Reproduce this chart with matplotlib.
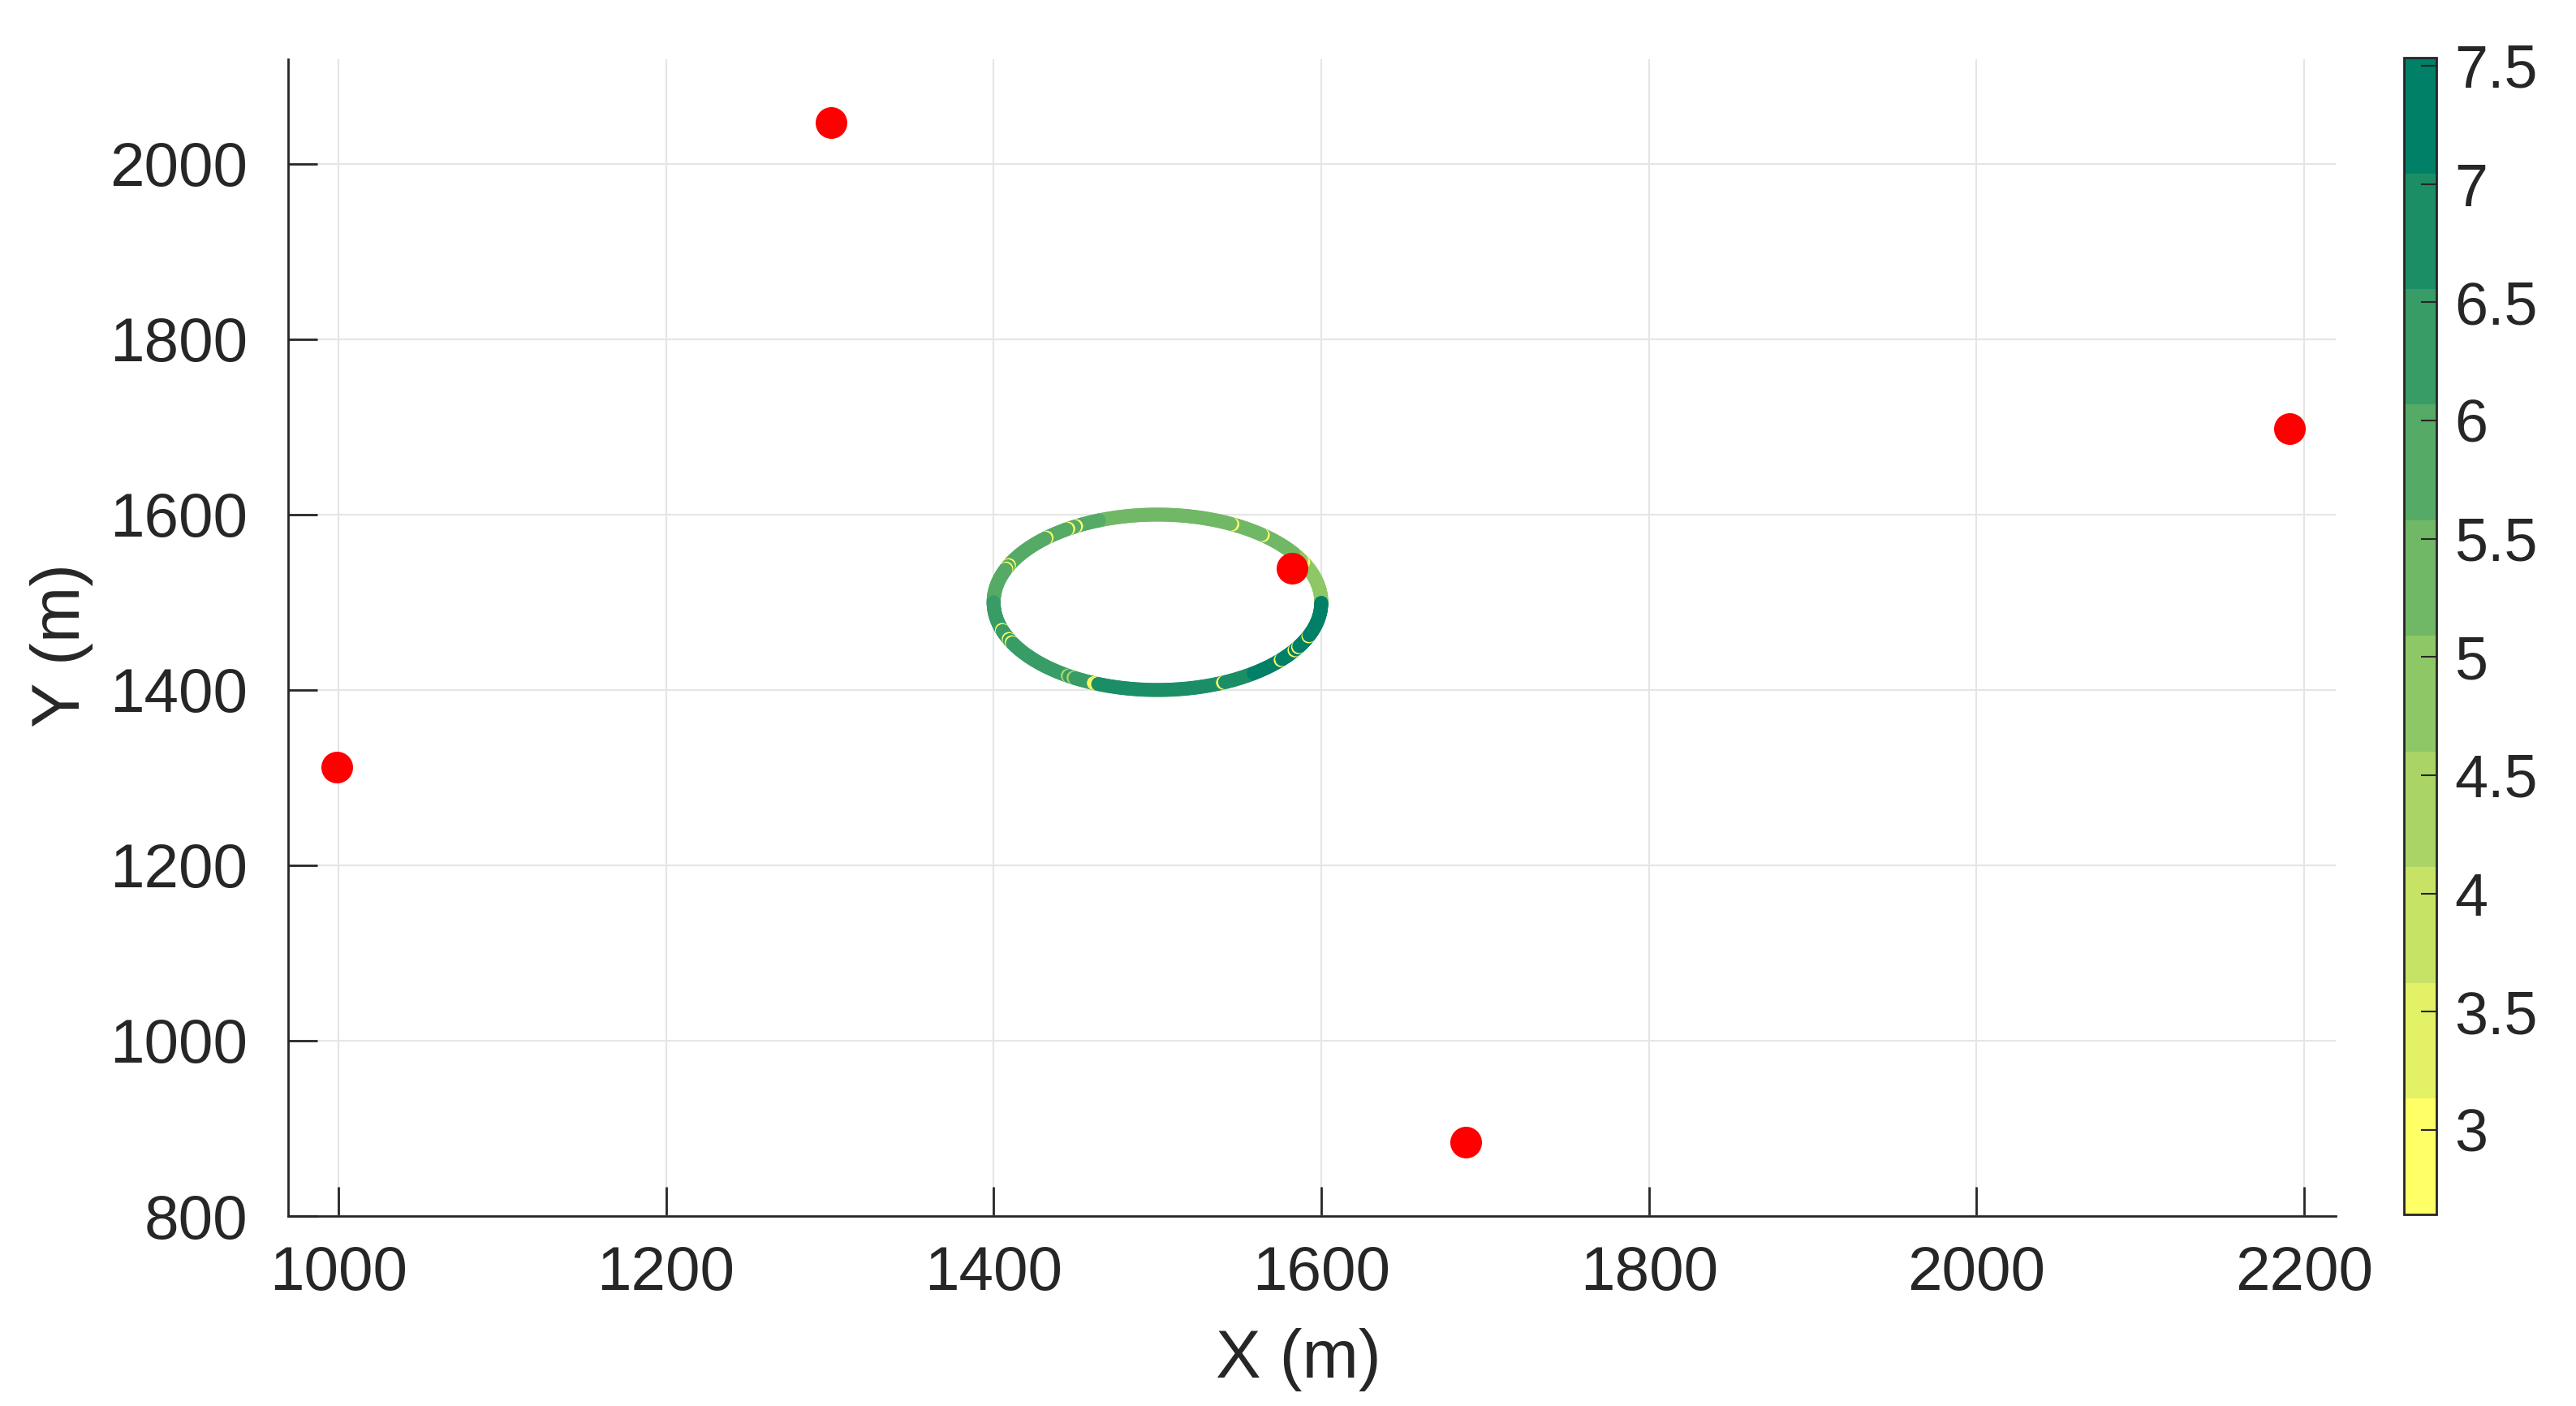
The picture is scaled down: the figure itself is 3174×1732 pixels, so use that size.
import numpy as np
import matplotlib
matplotlib.use("Agg")
import matplotlib.pyplot as plt
from matplotlib.colors import ListedColormap

plt.rcParams['font.family'] = ['Liberation Sans', 'DejaVu Sans']

# ---- data ----
# red anchor points
anchor_x = [999, 1301, 2191, 1582, 1688]
anchor_y = [1312, 2047, 1698, 1539, 884]

# circular trajectory: centre / radius
traj_cx, traj_cy, traj_r = 1500, 1500, 100
# colour value along the trajectory, piecewise by angle (degrees, ccw from +x)
seg_start = [0, 34, 111, 180, 248, 306]
seg_end = [34, 111, 180, 248, 306, 360]
seg_value = [4.8, 5.3, 5.8, 6.3, 6.8, 7.3]
# isolated low readings (mostly hidden under the ring)
dip_angle = [28, 50, 63, 120, 123, 133, 155, 158, 199, 205, 208, 237, 240, 248, 294, 319, 327, 330, 338, 2]
dip_value = [3.0, 3.0, 3.0, 3.0, 3.0, 3.0, 3.0, 3.0, 3.0, 3.0, 3.0, 4.3, 4.3, 3.0, 3.0, 3.0, 3.0, 3.0, 3.0, 4.3]

clim = (2.643, 7.534)
cbar_ticks = [3, 3.5, 4, 4.5, 5, 5.5, 6, 6.5, 7, 7.5]
cbar_ticklabels = ['3', '3.5', '4', '4.5', '5', '5.5', '6', '6.5', '7', '7.5']
xticks = [1000, 1200, 1400, 1600, 1800, 2000, 2200]
yticks = [800, 1000, 1200, 1400, 1600, 1800, 2000]

# ---- build trajectory samples ----
STEP = 0.8
ang, val = [], []
dips = sorted(zip(dip_angle, dip_value))
for s, e, v in zip(seg_start, seg_end, seg_value):
    for a in np.arange(s, e, STEP):
        ang.append(a)
        val.append(v)
        for da, dv in dips:
            if a <= da < a + STEP:
                ang.append(a)
                val.append(dv)
ang = np.deg2rad(np.array(ang, dtype=float))
val = np.array(val)
tx = traj_cx + traj_r * np.cos(ang)
ty = traj_cy + traj_r * np.sin(ang)

# ---- figure ----
TXT = '#262626'
fig = plt.figure(figsize=(31.74, 17.32), dpi=100)
ax = fig.add_axes([0.1118, 0.1351, 0.7950, 0.8228])
cmap = ListedColormap(plt.get_cmap('summer_r')(np.linspace(0, 1, 10)))

ax.grid(True, color='#e5e5e5', linewidth=1.5, zorder=0)
ax.set_axisbelow(True)

sc = ax.scatter(tx, ty, c=val, cmap=cmap, vmin=clim[0], vmax=clim[1],
                s=155, linewidths=0, zorder=3)
ax.scatter(anchor_x, anchor_y, s=790, color='#ff0000', linewidths=0, zorder=4)

ax.set_xlim(969.3, 2219.3)
ax.set_ylim(800, 2119.4)
ax.set_xticks(xticks)
ax.set_yticks(yticks)
for sp in ['top', 'right']:
    ax.spines[sp].set_visible(False)
for sp in ['bottom', 'left']:
    ax.spines[sp].set_color(TXT)
    ax.spines[sp].set_linewidth(2)
ax.tick_params(axis='both', direction='in', length=26, width=2, color=TXT,
               labelcolor=TXT, labelsize=55)
ax.tick_params(axis='x', pad=26)
ax.tick_params(axis='y', pad=36)

fig.text(0.504, 0.0202, 'X (m)', ha='center', va='baseline', fontsize=60, color=TXT)
fig.text(0.024, 0.541, 'Y (m)', ha='center', va='center', rotation=90, fontsize=60, color=TXT)

cax = fig.add_axes([0.9332, 0.1363, 0.0126, 0.8227])
cb = fig.colorbar(sc, cax=cax)
cb.set_ticks(cbar_ticks)
cb.set_ticklabels(cbar_ticklabels)
cb.outline.set_edgecolor(TXT)
cb.outline.set_linewidth(2)
cax.tick_params(direction='in', length=14, width=1.5, color=TXT, labelcolor=TXT,
                labelsize=53, pad=16)

fig.savefig('out.png', dpi=100, facecolor='white')
